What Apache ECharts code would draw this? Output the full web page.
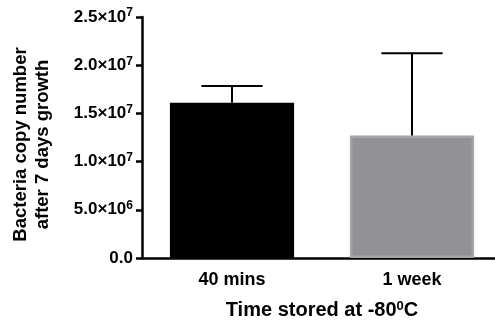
<!DOCTYPE html>
<html>
<head>
<meta charset="utf-8">
<script src="https://cdn.jsdelivr.net/npm/echarts@6/dist/echarts.min.js"></script>
<style>
  html, body { margin: 0; padding: 0; background: #fff; }
  #chart { width: 495px; height: 322px; }
</style>
</head>
<body>
<div id="chart"></div>
<script>
// values
const categories = ['40 mins', '1 week'];
const means = [1.61e7, 1.27e7];
const upperErrors = [1.785e7, 2.125e7];
const barColors = ['#000000', '#919196'];
const barBorders = ['#000000', '#a6a6a9'];
const yTicks = [0, 5e6, 1e7, 1.5e7, 2e7, 2.5e7];

const chart = echarts.init(document.getElementById('chart'));

// "2.5×10^7" style labels with a raised exponent
function sciLabel(v) {
    if (v === 0) return '{m|0.0}';
    const exp = Math.floor(Math.log10(v));
    const mant = (v / Math.pow(10, exp)).toFixed(1);
    return '{m|' + mant + '×10}{s|' + exp + '}';
}

const errData = categories.map((c, i) => [i, means[i], upperErrors[i]]);

const font = 'Liberation Sans, Arial, sans-serif';

chart.setOption({
    animation: false,
    grid: { left: 142, top: 17, width: 360, height: 241, outerBoundsMode: 'none', containLabel: false },
    xAxis: {
        type: 'category',
        data: categories,
        axisLine: { lineStyle: { color: '#000', width: 2.5 } },
        axisTick: { alignWithLabel: true, length: 6, lineStyle: { color: '#000', width: 2.5 } },
        axisLabel: { color: '#000', fontWeight: 'bold', fontSize: 18, fontFamily: font, margin: 13 },
        name: 'Time stored at -80{s|0}C',
        nameLocation: 'middle',
        nameGap: 42,
        nameTextStyle: {
            color: '#000', fontWeight: 'bold', fontSize: 20, fontFamily: font,
            rich: { s: { fontSize: 13, fontWeight: 'bold', fontFamily: font, color: '#000', padding: [0, 0, 8, 0] } }
        }
    },
    yAxis: {
        type: 'value',
        min: 0,
        max: yTicks[yTicks.length - 1],
        interval: yTicks[1] - yTicks[0],
        splitLine: { show: false },
        axisLine: { show: true, lineStyle: { color: '#000', width: 2.5 } },
        axisTick: { show: true, length: 6, lineStyle: { color: '#000', width: 2.5 } },
        axisLabel: {
            margin: 9,
            formatter: sciLabel,
            rich: {
                m: { fontSize: 17, fontWeight: 'bold', fontFamily: font, color: '#000' },
                s: { fontSize: 12, fontWeight: 'bold', fontFamily: font, color: '#000', padding: [0, 0, 8, 0] }
            }
        },
        name: 'Bacteria copy number\nafter 7 days growth',
        nameLocation: 'middle',
        nameRotate: 90,
        nameGap: 88,
        nameTextStyle: {
            color: '#000', fontWeight: 'bold', fontSize: 18.5, fontFamily: font, lineHeight: 22,
            padding: [0, 14, 0, 0]
        }
    },
    series: [
        {
            type: 'bar',
            barWidth: '69%',
            data: means.map((v, i) => ({
                value: v,
                itemStyle: { color: barColors[i], borderColor: barBorders[i], borderWidth: 2.5 }
            }))
        },
        {
            type: 'custom',
            z: 3,
            data: errData,
            renderItem: function (params, api) {
                const idx = api.value(0);
                const low = api.coord([idx, api.value(1)]);
                const high = api.coord([idx, api.value(2)]);
                const half = api.size([1, 0])[0] * 0.17;
                const style = { stroke: '#000', lineWidth: 2 };
                return {
                    type: 'group',
                    children: [
                        { type: 'line', shape: { x1: low[0], y1: low[1], x2: high[0], y2: high[1] }, style: style },
                        { type: 'line', shape: { x1: high[0] - half, y1: high[1], x2: high[0] + half, y2: high[1] }, style: style }
                    ]
                };
            }
        }
    ]
});
</script>
</body>
</html>
